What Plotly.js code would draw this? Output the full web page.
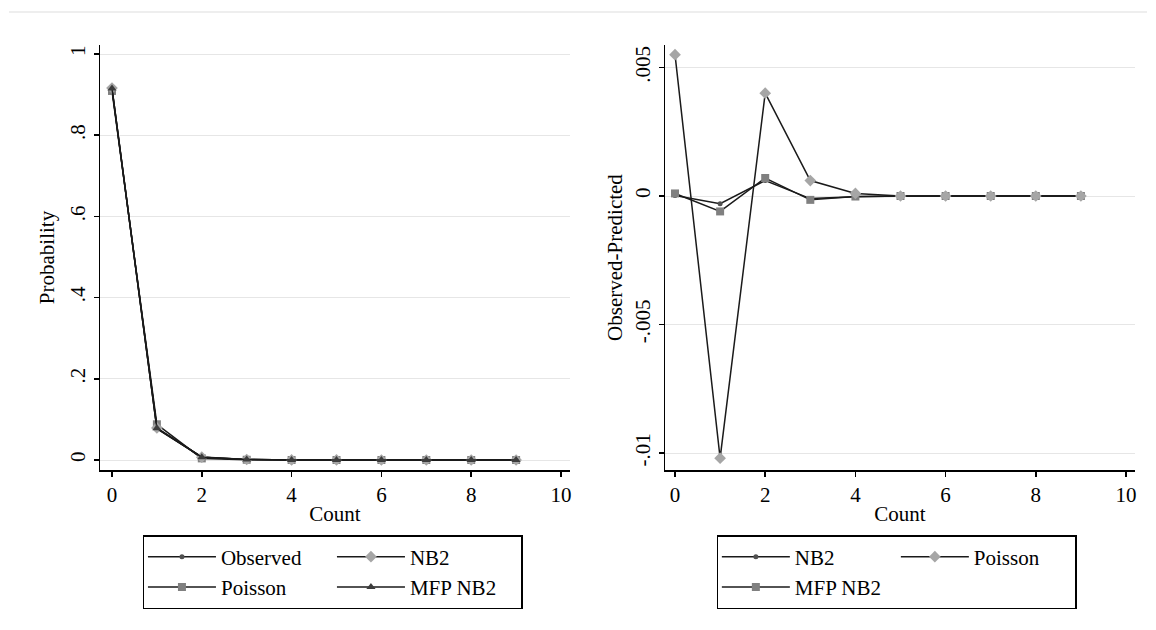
<!DOCTYPE html>
<html>
<head>
<meta charset="utf-8">
<script src="https://cdn.plot.ly/plotly-3.0.1.min.js"></script>
<style>html,body{margin:0;padding:0;background:#fff;}</style>
</head>
<body>
<div id="chart" style="width:1156px;height:630px;"></div>
<script>
// ---- data ----
const counts = [0, 1, 2, 3, 4, 5, 6, 7, 8, 9];

// Left panel: probabilities
const probObserved = [0.915, 0.077, 0.0075, 0.0012, 0.0002, 0.0001, 0, 0, 0, 0];
const probNB2      = [0.916, 0.079, 0.0070, 0.0013, 0.0002, 0.0001, 0, 0, 0, 0];
const probPoisson  = [0.909, 0.088, 0.0040, 0.0006, 0.0001, 0, 0, 0, 0, 0];
const probMFPNB2   = [0.915, 0.078, 0.0068, 0.0014, 0.0002, 0.0001, 0, 0, 0, 0];

// Right panel: observed - predicted
const diffNB2     = [0.00002, -0.0003, 0.0006, -0.0001, -0.00003, 0, 0, 0, 0, 0];
const diffPoisson = [0.0055, -0.0102, 0.0040, 0.0006, 0.0001, 0, 0, 0, 0, 0];
const diffMFPNB2  = [0.0001, -0.0006, 0.0007, -0.00015, -0.00002, 0, 0, 0, 0, 0];

const leftYTickVals  = [0, 0.2, 0.4, 0.6, 0.8, 1];
const leftYTickText  = ['0', '.2', '.4', '.6', '.8', '1'];
const rightYTickVals = [-0.01, -0.005, 0, 0.005];
const rightYTickText = ['-.01', '-.005', '0', '.005'];
const xTickVals = [0, 2, 4, 6, 8, 10];

// ---- styles ----
const FONT = 'Liberation Serif, Times New Roman, serif';
const FS = 21;
const lineStyle = {color: '#1a1a1a', width: 1.5};
const cDot = '#505050', cDiamond = '#a6a6a6', cSquare = '#808080', cTri = '#3c3c3c';

function tr(name, x, y, xa, ya, symbol, size, color, legend, group) {
  return {
    type: 'scatter', mode: 'lines+markers', name: name, x: x, y: y,
    xaxis: xa, yaxis: ya, line: lineStyle,
    marker: {symbol: symbol, size: size, color: color},
    legend: legend, legendgroup: group, showlegend: true
  };
}

const data = [
  tr('Observed', counts, probObserved, 'x', 'y', 'circle', 5, cDot, 'legend', 'L1'),
  tr('Poisson', counts, probPoisson, 'x', 'y', 'square', 8, cSquare, 'legend', 'L1'),
  tr('NB2', counts, probNB2, 'x', 'y', 'diamond', 9, cDiamond, 'legend', 'L2'),
  tr('MFP NB2', counts, probMFPNB2, 'x', 'y', 'triangle-up', 8, cTri, 'legend', 'L2'),
  tr('NB2', counts, diffNB2, 'x2', 'y2', 'circle', 5, cDot, 'legend2', 'R1'),
  tr('MFP NB2', counts, diffMFPNB2, 'x2', 'y2', 'square', 8, cSquare, 'legend2', 'R1'),
  tr('Poisson', counts, diffPoisson, 'x2', 'y2', 'diamond', 9, cDiamond, 'legend2', 'R2')
];

const tfont = {family: FONT, size: FS, color: '#000'};

const axisCommon = {
  showline: true, linecolor: '#000', linewidth: 1.5,
  ticks: 'outside', ticklen: 5, tickcolor: '#000', tickwidth: 1.5,
  tickfont: tfont, zeroline: false, mirror: false
};

const legendCommon = {
  orientation: 'h', traceorder: 'grouped',
  bordercolor: '#000', borderwidth: 1.5, bgcolor: '#fff',
  font: tfont,
  itemwidth: 68, xanchor: 'left', yanchor: 'top', tracegroupgap: 0,
  entrywidthmode: 'pixels'
};

const layout = {
  width: 1156, height: 630,
  paper_bgcolor: '#fff', plot_bgcolor: '#fff',
  margin: {l: 100, r: 21, t: 45, b: 160},
  font: tfont,
  xaxis: Object.assign({}, axisCommon, {
    domain: [0, 0.4541], range: [-0.267, 10.2], tickvals: xTickVals,
    showgrid: false, anchor: 'y',
    title: {text: 'Count', standoff: 0, font: tfont}
  }),
  yaxis: Object.assign({}, axisCommon, {
    domain: [0, 1], range: [-0.0246, 1.0222],
    tickvals: leftYTickVals, ticktext: leftYTickText, tickangle: -90,
    showgrid: true, gridcolor: '#e6e6e6', gridwidth: 1, anchor: 'x',
    title: {text: 'Probability', standoff: 5, font: tfont}
  }),
  xaxis2: Object.assign({}, axisCommon, {
    domain: [0.5459, 1], range: [-0.222, 10.2], tickvals: xTickVals,
    showgrid: false, anchor: 'y2',
    title: {text: 'Count', standoff: 0, font: tfont}
  }),
  yaxis2: Object.assign({}, axisCommon, {
    domain: [0, 1], range: [-0.01066, 0.005875],
    tickvals: rightYTickVals, ticktext: rightYTickText, tickangle: -90,
    showgrid: true, gridcolor: '#e6e6e6', gridwidth: 1, anchor: 'x2',
    title: {text: 'Observed-Predicted', standoff: 3, font: tfont}
  }),
  legend: Object.assign({}, legendCommon, {x: 0.0415, y: -0.153, entrywidth: 106}),
  legend2: Object.assign({}, legendCommon, {x: 0.596, y: -0.153, entrywidth: 96}),
  shapes: [{
    type: 'line', xref: 'paper', yref: 'paper',
    x0: -0.0879, x1: 1.0116, y0: 1.0776, y1: 1.0776,
    line: {color: '#e8e8e8', width: 1.5}
  }],
  showlegend: true
};

Plotly.newPlot('chart', data, layout, {staticPlot: true, displayModeBar: false});
</script>
</body>
</html>
